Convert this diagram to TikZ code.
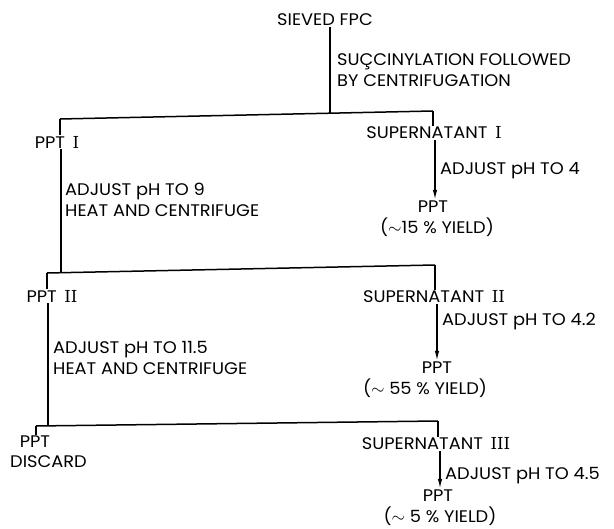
\documentclass[tikz,border=0pt]{standalone}
\usepackage{fontspec}
\newfontfamily\lett[FakeStretch=1.06]{Poppins}
\newfontfamily\romfont{DejaVu Serif}
\newcommand{\rnum}[1]{\hspace{0.45em}{\romfont\fontsize{16.5}{16.5}\selectfont #1}}
\usetikzlibrary{arrows.meta}
\begin{document}
\begin{tikzpicture}[x=1pt,y=-1pt,
  lab/.style={font=\lett\fontsize{16.8}{21}\selectfont, inner sep=1pt, text=black},
  note/.style={lab, anchor=west, align=left},
  ln/.style={draw=black, line width=1.5pt},
  arr/.style={ln, -{Latex[length=10pt,width=4.5pt]}}]
\useasboundingbox (0,0) rectangle (614,529);
% top
\node[lab] (sieved) at (325,20) {SIEVED FPC};
\node[note] (succ) at (336,70) {SUÇCINYLATION FOLLOWED\\BY CENTRIFUGATION};
\coordinate (L1) at (60,119);
\coordinate (R1) at (433,111);
\coordinate (J1) at (330,114);
\draw[ln] (sieved.south -| J1) -- (J1);
\draw[ln] (L1) -- (R1);
% level 1
\node[lab] (pptI) at (57,142) {PPT\rnum{I}};
\node[lab] (supI) at (434,133) {SUPERNATANT\rnum{I}};
\draw[ln] (L1) -- (pptI.north -| L1);
\draw[ln] (R1) -- (supI.north -| R1);
\node[lab] (pptA) at (433,207) {PPT};
\node[lab] (yldA) at (437,227) {($\sim$15 \% YIELD)};
\draw[arr] (supI.south -| 435,0) -- (pptA.north -| 435,0);
\node[note] (adjA) at (439,171) {ADJUST pH TO 4};
\node[note] (heatA) at (64,200) {ADJUST pH TO 9\\HEAT AND CENTRIFUGE};
\coordinate (L2) at (47,273);
\coordinate (R2) at (435,265);
\coordinate (J2) at (61,272.7);
\draw[ln] (pptI.south -| J2) -- (J2);
\draw[ln] (L2) -- (R2);
% level 2
\node[lab] (pptII) at (52,296) {PPT\rnum{II}};
\node[lab] (supII) at (434,297) {SUPERNATANT\rnum{II}};
\draw[ln] (L2) -- (pptII.north -| L2);
\draw[ln] (R2) -- (supII.north -| R2);
\node[lab] (pptB) at (437,368) {PPT};
\node[lab] (yldB) at (425,388) {($\sim$ 55 \% YIELD)};
\draw[arr] (supII.south -| 437,0) -- (pptB.north -| 437,0);
\node[note] (adjB) at (441,322) {ADJUST pH TO 4.2};
\node[note] (heatB) at (52,358) {ADJUST pH TO 11.5\\HEAT AND CENTRIFUGE};
\coordinate (L3) at (36,426);
\coordinate (R3) at (438,421);
\coordinate (J3) at (48,425.8);
\draw[ln] (pptII.south -| J3) -- (J3);
\draw[ln] (L3) -- (R3);
% level 3
\node[lab] (pptC) at (35,442) {PPT};
\node[lab, anchor=west] (disc) at (9,462) {DISCARD};
\node[lab] (supIII) at (436,444) {SUPERNATANT\rnum{III}};
\draw[ln] (L3) -- (pptC.north -| L3);
\draw[ln] (R3) -- (supIII.north -| R3);
\node[lab] (pptD) at (438,496) {PPT};
\node[lab] (yldD) at (440,516) {($\sim$ 5 \% YIELD)};
\draw[arr] (supIII.south -| 440,0) -- (pptD.north -| 440,0);
\node[note] (adjD) at (444,476) {ADJUST pH TO 4.5};
\end{tikzpicture}
\end{document}
